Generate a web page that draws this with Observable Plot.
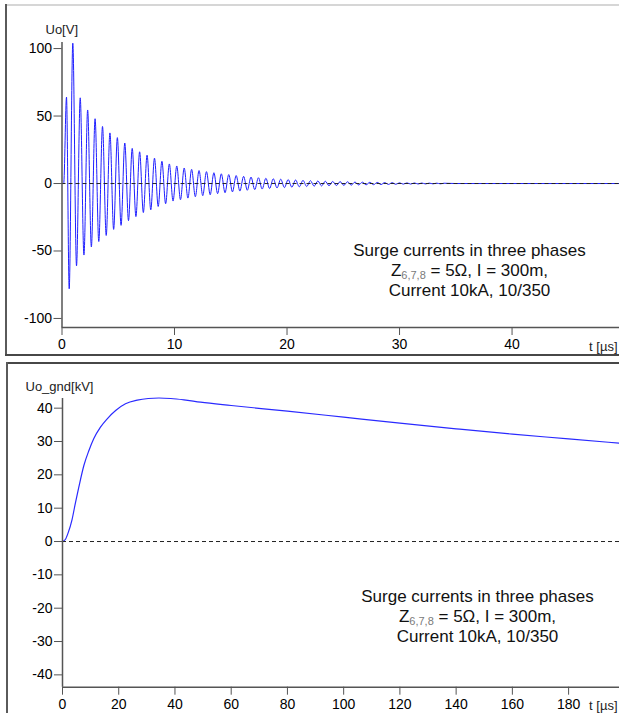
<!DOCTYPE html>
<html>
<head>
<meta charset="utf-8">
<script src="https://cdn.jsdelivr.net/npm/d3@7"></script>
<script src="https://cdn.jsdelivr.net/npm/@observablehq/plot@0.6"></script>
<style>
  html, body { margin: 0; padding: 0; background: #fff; }
  #wrap { position: relative; width: 619px; height: 713px; overflow: hidden; background: #fff; }
  #p1, #p2 { position: absolute; left: 0; }
  #p1 { top: 0; }
  #p2 { top: 356px; }
  .b { position: absolute; }
</style>
</head>
<body>
<div id="wrap">
  <div id="p1"></div>
  <div id="p2"></div>
  <div class="b" style="left:6px;top:4px;width:613px;height:2px;background:#d6d6d6"></div>
  <div class="b" style="left:5px;top:4px;width:2px;height:352px;background:#5a5a5a"></div>
  <div class="b" style="left:5px;top:354px;width:614px;height:2px;background:#474747"></div>
  <div class="b" style="left:6px;top:362px;width:613px;height:2px;background:#474747"></div>
  <div class="b" style="left:6px;top:362px;width:2px;height:351px;background:#5a5a5a"></div>
</div>
<script>
// ---------- Data: top panel, Uo[V] oscillation (extrema) ----------
const oscT = [
  0.00, 0.15, 0.40, 0.64, 0.96, 1.29, 1.62, 1.95, 2.28, 2.61, 2.94, 3.27, 3.60, 3.93, 4.26, 4.59,
  4.92, 5.25, 5.58, 5.91, 6.24, 6.57, 6.90, 7.23, 7.56, 7.89, 8.22, 8.55, 8.88, 9.21, 9.54, 9.87,
  10.20, 10.53, 10.86, 11.19, 11.52, 11.85, 12.18, 12.51, 12.84, 13.17, 13.50, 13.83, 14.16, 14.49,
  14.82, 15.15, 15.48, 15.81, 16.14, 16.47, 16.80, 17.13, 17.46, 17.79, 18.12, 18.45, 18.78, 19.11,
  19.44, 19.77, 20.10, 20.43, 20.76, 21.09, 21.42, 21.75, 22.08, 22.41, 22.74, 23.07, 23.40, 23.73,
  24.06, 24.39, 24.72, 25.05, 25.38, 25.71, 26.04, 26.37, 26.70, 27.03, 27.36, 27.69, 28.02, 28.35,
  28.68, 29.01, 29.34, 29.67, 30.00, 30.33, 30.66, 30.99, 31.32, 31.65, 31.98, 32.31, 32.64, 32.97,
  33.30, 33.63, 33.96, 35.00, 49.55
];
const oscV = [
  0, 0, 64, -78, 104, -61, 63.5, -53, 54.5, -47, 48, -43, 42.3, -38.5, 37.5, -34,
  34, -31, 30, -27.5, 26, -24.5, 23.5, -21.5, 21, -19.5, 18.8, -17, 16.5, -15, 14.5, -13,
  13, -12, 11.5, -10.8, 10.5, -9.8, 9.6, -9, 8.8, -8.3, 8, -7.5, 7.2, -6.8,
  6.6, -6.2, 5.9, -5.6, 5.3, -5, 4.8, -4.5, 4.3, -4.1, 3.9, -3.7, 3.5, -3.3,
  3.2, -3.0, 2.9, -2.7, 2.6, -2.4, 2.3, -2.2, 2.1, -2.0, 1.9, -1.8, 1.7, -1.6,
  1.5, -1.45, 1.4, -1.35, 1.3, -1.2, 1.1, -1.05, 1.0, -0.95, 0.9, -0.85, 0.8, -0.75,
  0.7, -0.65, 0.6, -0.55, 0.5, -0.45, 0.45, -0.4, 0.4, -0.35, 0.35, -0.3, 0.3, -0.25,
  0.25, -0.2, 0.2, 0, 0
];
const uoTicks = [-100, -50, 0, 50, 100];
const tTicksTop = [0, 10, 20, 30, 40];

// ---------- Data: bottom panel, Uo_gnd[kV] ----------
const gndT = [0, 1, 2, 3.4, 4.6, 5.8, 7.6, 9.4, 11.1, 13.5, 15.9, 18.9, 22.4, 26.6, 30.5, 34.3, 38.5, 43.2,
  49.1, 60, 80, 100, 120, 140, 160, 180, 198];
const gndV = [0, 0.6, 2.6, 6.6, 11.6, 16.3, 22.8, 27.3, 30.8, 34.3, 36.8, 39.3, 41.3, 42.4, 42.9, 43.05, 42.9, 42.5,
  41.8, 40.8, 39.1, 37.3, 35.5, 33.8, 32.2, 30.8, 29.5];
const gndTicks = [-40, -30, -20, -10, 0, 10, 20, 30, 40];
const tTicksBottom = [0, 20, 40, 60, 80, 100, 120, 140, 160, 180];

// ---------- Texts ----------
const labelTop = "Uo[V]";
const labelBottom = "Uo_gnd[kV]";
const labelTime = "t [µs]";
const note1 = "Surge currents in three phases";
const noteZ = "Z";
const noteSub = "6,7,8";
const noteRest = " = 5Ω, I = 300m,";
const note3 = "Current 10kA, 10/350";
const note2 = noteZ + noteSub + noteRest;

const topData = oscT.map((t, i) => ({t, v: oscV[i]}));
const botData = gndT.map((t, i) => ({t, v: gndV[i]}));

const FONT = "'Liberation Sans', Arial, Helvetica, sans-serif";
const fmt = d => String(d);

function panel(o) {
  return Plot.plot({
    width: 619,
    height: o.height,
    marginLeft: o.ml, marginRight: 0, marginTop: o.mt, marginBottom: o.mb,
    x: {domain: o.xDomain},
    y: {domain: o.yDomain},
    style: {fontFamily: FONT, fontSize: "14px", background: "transparent", color: "black", overflow: "visible"},
    marks: [
      Plot.line(o.data, {x: "t", y: "v", stroke: o.lineColor, strokeWidth: o.lineWidth, curve: "monotone-x"}),
      Plot.ruleY([0], {stroke: "#222", strokeWidth: 1, strokeDasharray: "4,3"}),
      Plot.ruleX([0], {stroke: "#555", strokeWidth: 1.5}),
      Plot.ruleY([o.yDomain[0]], {stroke: "#555", strokeWidth: 1.5}),
      Plot.axisY({ticks: o.yTicks, tickSize: 8, tickPadding: 2, tickFormat: fmt, stroke: "#555", fill: "black", label: null}),
      Plot.axisX({ticks: o.xTicks, tickSize: 8, tickPadding: 4, tickFormat: fmt, stroke: "#555", fill: "black", label: null}),
      Plot.text([o.yLabel], {frameAnchor: "top-left", text: d => d, dx: o.ylDx, dy: o.ylDy, textAnchor: "start", lineAnchor: "middle", fontSize: 13, fill: "#222"}),
      Plot.text([labelTime], {frameAnchor: "bottom-right", text: d => d, dx: -2, dy: o.tDy, textAnchor: "end", lineAnchor: "middle", fontSize: 13, fill: "#222"}),
      Plot.text([[note1, note2, note3].join("\n")], {frameAnchor: "bottom-right", text: d => d, dx: o.nDx, dy: o.nDy, textAnchor: "middle", lineAnchor: "middle", lineHeight: 1.18, fontSize: 17, fill: "#111"})
    ]
  });
}

function subscript(svg) {
  const NS = "http://www.w3.org/2000/svg";
  svg.querySelectorAll("tspan, text").forEach(el => {
    if (el.children.length === 0 && el.textContent === note2) {
      el.textContent = "";
      el.appendChild(document.createTextNode(noteZ));
      const s = document.createElementNS(NS, "tspan");
      s.setAttribute("font-size", "11");
      s.setAttribute("fill", "#7a7a7a");
      s.setAttribute("dy", "3");
      s.textContent = noteSub;
      el.appendChild(s);
      const r = document.createElementNS(NS, "tspan");
      r.setAttribute("dy", "-3");
      r.textContent = noteRest;
      el.appendChild(r);
    }
  });
}

const c1 = panel({
  height: 355, ml: 61.5, mt: 42, mb: 28,
  xDomain: [0, 49.55], yDomain: [-106.7, 104.5],
  data: topData, lineColor: "#1f1fff", lineWidth: 1,
  yTicks: uoTicks, xTicks: tTicksTop,
  yLabel: labelTop, ylDx: -16.5, ylDy: -13,
  tDy: 19.7, nDx: -150, nDy: -58.3
});
const c2 = panel({
  height: 357, ml: 62, mt: 42, mb: 26.3,
  xDomain: [0, 198.1], yDomain: [-43.7, 42.9],
  data: botData, lineColor: "#2a2aff", lineWidth: 1.2,
  yTicks: gndTicks, xTicks: tTicksBottom,
  yLabel: labelBottom, ylDx: -37, ylDy: -11.3,
  tDy: 18.3, nDx: -142, nDy: -71.7
});
subscript(c1);
subscript(c2);
document.getElementById("p1").appendChild(c1);
document.getElementById("p2").appendChild(c2);
</script>
</body>
</html>
